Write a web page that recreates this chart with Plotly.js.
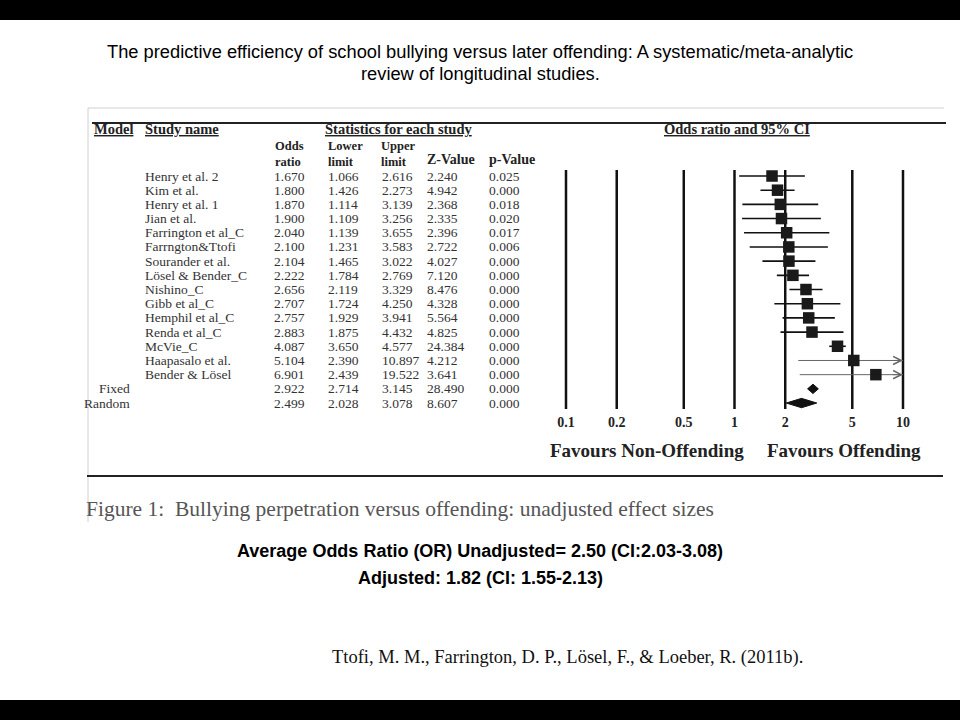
<!DOCTYPE html>
<html><head><meta charset="utf-8">
<script src="https://cdn.plot.ly/plotly-3.0.1.min.js"></script>
<style>html,body{margin:0;padding:0;background:#fff}</style>
</head><body><div id="chart" style="width:960px;height:720px"></div>
<script>
// ---------------- data ----------------
const studyNames = ['Henry et al. 2','Kim et al.','Henry et al. 1','Jian et al.','Farrington et al_C','Farrngton&Ttofi','Sourander et al.','Lösel & Bender_C','Nishino_C','Gibb et al_C','Hemphil et al_C','Renda et al_C','McVie_C','Haapasalo et al.','Bender & Lösel','',''];
const modelNames = ['','','','','','','','','','','','','','','','Fixed','Random'];
const oddsRatio = [1.670,1.800,1.870,1.900,2.040,2.100,2.104,2.222,2.656,2.707,2.757,2.883,4.087,5.104,6.901,2.922,2.499];
const lowerLimit = [1.066,1.426,1.114,1.109,1.139,1.231,1.465,1.784,2.119,1.724,1.929,1.875,3.650,2.390,2.439,2.714,2.028];
const upperLimit = [2.616,2.273,3.139,3.256,3.655,3.583,3.022,2.769,3.329,4.250,3.941,4.432,4.577,10.897,19.522,3.145,3.078];
const zValue = ['2.240','4.942','2.368','2.335','2.396','2.722','4.027','7.120','8.476','4.328','5.564','4.825','24.384','4.212','3.641','28.490','8.607'];
const pValue = ['0.025','0.000','0.018','0.020','0.017','0.006','0.000','0.000','0.000','0.000','0.000','0.000','0.000','0.000','0.000','0.000','0.000'];
const xTickVals = [0.1,0.2,0.5,1,2,5,10];
const xTickText = ['0.1','0.2','0.5','1','2','5','10'];
const xMax = 10;

// ---------------- helpers ----------------
const W = 960, H = 720;
const px = v => v / W;
const py = v => 1 - v / H;
const rowTop = 176, rowStep = 14.19, plotTop = 170, plotBot = 409;
const decadePx = 168.5, edge = 0.012;
const serif = 'Liberation Serif, Times New Roman, serif';
const sans = 'Liberation Sans, Arial, sans-serif';
const fmt = v => v.toFixed(3);

const nRows = oddsRatio.length;
const isStudy = i => modelNames[i] === '';
const yLo = (plotBot - rowTop) / rowStep, yHi = (plotTop - rowTop) / rowStep;

// vertical reference lines at each tick
const vl = {x: [], y: []};
xTickVals.forEach(v => { vl.x.push(v, v, null); vl.y.push(yHi, yLo, null); });

// CI lines
const ciBlack = {x: [], y: []}, ciGray = {x: [], y: []};
const sqX = [], sqY = [];
for (let i = 0; i < nRows; i++) {
  if (!isStudy(i)) continue;
  const tgt = upperLimit[i] > xMax ? ciGray : ciBlack;
  tgt.x.push(lowerLimit[i], Math.min(upperLimit[i], xMax), null);
  tgt.y.push(i, i, null);
  sqX.push(oddsRatio[i]); sqY.push(i);
}
const traces = [
  {type: 'scatter', mode: 'lines', x: vl.x, y: vl.y, line: {color: '#111', width: 2.5}, hoverinfo: 'skip', showlegend: false},
  {type: 'scatter', mode: 'lines', x: ciBlack.x, y: ciBlack.y, line: {color: '#111', width: 1.6}, hoverinfo: 'skip', showlegend: false},
  {type: 'scatter', mode: 'lines', x: ciGray.x, y: ciGray.y, line: {color: '#666', width: 1}, hoverinfo: 'skip', showlegend: false},
  {type: 'scatter', mode: 'markers', x: sqX, y: sqY, marker: {symbol: 'square', size: 11.5, color: '#1a1a1a'}, hoverinfo: 'skip', showlegend: false}
];
for (let i = 0; i < nRows; i++) {
  if (isStudy(i)) continue;
  const h = 0.33;
  traces.push({type: 'scatter', mode: 'lines', fill: 'toself', fillcolor: '#111',
    x: [lowerLimit[i], oddsRatio[i], upperLimit[i], oddsRatio[i], lowerLimit[i]],
    y: [i, i - h, i, i + h, i], line: {color: '#111', width: 1}, hoverinfo: 'skip', showlegend: false});
}

// annotations
const ann = [];
const txt = (text, x, y, opts = {}) => ann.push(Object.assign({
  text, x: px(x), y, xref: 'paper', yref: 'y', showarrow: false,
  xanchor: 'left', yanchor: 'middle', font: {family: serif, size: 13.5, color: '#333'}
}, opts));
const ptxt = (text, x, yPix, opts = {}) => txt(text, x, py(yPix), Object.assign({yref: 'paper'}, opts));

for (let i = 0; i < nRows; i++) {
  if (studyNames[i]) txt(studyNames[i], 143, i);
  if (modelNames[i]) txt(modelNames[i], 132, i, {xanchor: 'right'});
  txt(fmt(oddsRatio[i]), 272, i);
  txt(fmt(lowerLimit[i]), 326, i);
  txt(fmt(upperLimit[i]), 380, i);
  txt(zValue[i], 425, i);
  txt(pValue[i], 487, i);
}
// arrows for truncated CIs
for (let i = 0; i < nRows; i++) {
  if (isStudy(i) && upperLimit[i] > xMax) {
    ann.push({x: Math.log10(xMax), y: i, xref: 'x', yref: 'y', ax: -12, ay: 0, text: '',
      showarrow: true, arrowhead: 5, arrowsize: 1.6, arrowwidth: 1, arrowcolor: '#666'});
  }
}
// headers
const hb = {font: {family: serif, size: 14.5, color: '#222', weight: 'bold'}};
const sb = {font: {family: serif, size: 12.5, color: '#222', weight: 'bold'}, align: 'left'};
ptxt('<u>Model</u>', 92, 129, hb);
ptxt('<u>Study name</u>', 143, 129, hb);
ptxt('<u>Statistics for each study</u>', 323, 129, hb);
ptxt('<u>Odds ratio and 95% CI</u>', 662, 129, hb);
ptxt('Odds<br>ratio', 273, 153.5, sb);
ptxt('Lower<br>limit', 326, 153.5, sb);
ptxt('Upper<br>limit', 379, 153.5, sb);
ptxt('Z-Value', 425, 159, {font: {family: serif, size: 14, color: '#222', weight: 'bold'}});
ptxt('p-Value', 487, 159, {font: {family: serif, size: 14, color: '#222', weight: 'bold'}});
// favours
const fb = {font: {family: serif, size: 19, color: '#222', weight: 'bold'}};
ptxt('Favours Non-Offending', 548, 450, fb);
ptxt('Favours Offending', 765, 450, fb);
// page texts
const tf = {xanchor: 'center', font: {family: sans, size: 18.3, color: '#000'}};
ptxt('The predictive efficiency of school bullying versus later offending: A systematic/meta-analytic', 480, 52, tf);
ptxt('review of longitudinal studies.', 480, 74, tf);
ptxt('Figure 1:  Bullying perpetration versus offending: unadjusted effect sizes', 84, 509, {font: {family: serif, size: 21.5, color: '#555'}});
const bf = {xanchor: 'center', font: {family: sans, size: 18, color: '#000', weight: 'bold'}};
ptxt('Average Odds Ratio (OR) Unadjusted= 2.50 (CI:2.03-3.08)', 480, 551, bf);
ptxt('Adjusted: 1.82 (CI: 1.55-2.13)', 480, 578, bf);
ptxt('Ttofi, M. M., Farrington, D. P., Lösel, F., &amp; Loeber, R. (2011b).', 330, 657, {font: {family: serif, size: 18.5, color: '#111'}});

const shapes = [
  {type: 'rect', xref: 'paper', yref: 'paper', x0: 0, x1: 1, y0: py(20), y1: 1, fillcolor: '#000', line: {width: 0}},
  {type: 'rect', xref: 'paper', yref: 'paper', x0: 0, x1: 1, y0: 0, y1: py(700), fillcolor: '#000', line: {width: 0}},
  {type: 'line', xref: 'paper', yref: 'paper', x0: px(88), x1: px(944), y0: py(108), y1: py(108), line: {color: '#d0d0d0', width: 1}},
  {type: 'line', xref: 'paper', yref: 'paper', x0: px(88), x1: px(88), y0: py(108), y1: py(522), line: {color: '#d0d0d0', width: 1}},
  {type: 'line', xref: 'paper', yref: 'paper', x0: px(92), x1: px(946), y0: py(123), y1: py(123), line: {color: '#222', width: 2}},
  {type: 'line', xref: 'paper', yref: 'paper', x0: px(87), x1: px(943), y0: py(476), y1: py(476), line: {color: '#222', width: 2}}
];

const layout = {
  width: W, height: H,
  margin: {l: 0, r: 0, t: 0, b: 0},
  paper_bgcolor: '#fff', plot_bgcolor: 'rgba(0,0,0,0)',
  showlegend: false,
  xaxis: {type: 'log', range: [-1 - edge, 1 + edge], domain: [px(566 - edge * decadePx), px(903 + edge * decadePx)],
    tickvals: xTickVals, ticktext: xTickText, ticks: '', showgrid: false,
    showline: false, zeroline: false, ticklabelstandoff: 3,
    tickfont: {family: serif, size: 14, color: '#222', weight: 'bold'}, fixedrange: true},
  yaxis: {range: [yLo, yHi], domain: [py(plotBot), py(plotTop)],
    showticklabels: false, showgrid: false, zeroline: false, showline: false, ticks: '', fixedrange: true},
  annotations: ann,
  shapes: shapes
};
Plotly.newPlot('chart', traces, layout, {displayModeBar: false, staticPlot: true});
</script>
</body></html>
